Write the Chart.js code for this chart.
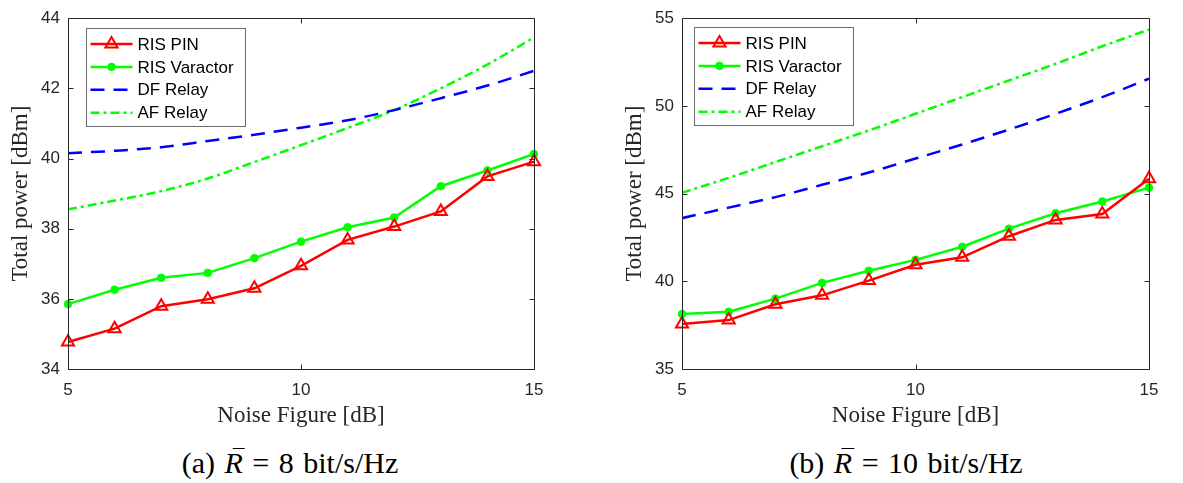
<!DOCTYPE html>
<html>
<head>
<meta charset="utf-8">
<title>Total power vs noise figure</title>
<script src="https://cdn.jsdelivr.net/npm/chart.js@4.4.1/dist/chart.umd.min.js"></script>
<style>
  body { margin: 0; background: #fff; }
  #page { position: relative; width: 1183px; height: 483px; overflow: hidden; }
  #page canvas { position: absolute; top: 0; }
  #chart-a { left: 0; }
  #chart-b { left: 591px; }
  .caption {
    position: absolute; top: 446px; line-height: 34px;
    font-family: 'Liberation Serif', serif; font-size: 30px; color: #000;
    white-space: nowrap; transform: translateX(-50%); word-spacing: 2px;
  }
  .rbar { font-style: italic; position: relative; }
  .rbar::before {
    content: ''; position: absolute; left: 0.26em; top: 0.08em; width: 0.42em;
    border-top: 1.5px solid #000;
  }
</style>
</head>
<body>
<div id="page">
  <canvas id="chart-a" width="591" height="430"></canvas>
  <canvas id="chart-b" width="592" height="430"></canvas>
  <div class="caption" style="left: 290px;">(a) <span class="rbar">R</span> = 8 bit/s/Hz</div>
  <div class="caption" style="left: 906px;">(b) <span class="rbar">R</span> = 10 bit/s/Hz</div>
</div>
<script>
// x values shared by both panels
const noiseFigure = [5, 6, 7, 8, 9, 10, 11, 12, 13, 14, 15];

// (a) R = 8 bit/s/Hz
const pinA       = [34.77, 35.15, 35.79, 35.99, 36.30, 36.94, 37.68, 38.06, 38.49, 39.49, 39.91];
const varactorA  = [35.85, 36.26, 36.60, 36.74, 37.16, 37.63, 38.04, 38.32, 39.21, 39.66, 40.13];
const dfRelayA   = [40.15, 40.22, 40.32, 40.50, 40.68, 40.88, 41.09, 41.38, 41.72, 42.08, 42.50];
const afRelayA   = [38.55, 38.80, 39.07, 39.43, 39.90, 40.38, 40.87, 41.38, 42.00, 42.68, 43.45];
const yTicksA    = [34, 36, 38, 40, 42, 44];

// (b) R = 10 bit/s/Hz
const pinB       = [37.57, 37.79, 38.69, 39.20, 40.04, 40.94, 41.37, 42.57, 43.50, 43.84, 45.84];
const varactorB  = [38.13, 38.26, 39.01, 39.91, 40.60, 41.22, 41.97, 43.00, 43.88, 44.55, 45.34];
const dfRelayB   = [43.60, 44.20, 44.80, 45.50, 46.20, 47.00, 47.80, 48.65, 49.55, 50.50, 51.55];
const afRelayB   = [45.05, 45.90, 46.80, 47.70, 48.60, 49.55, 50.50, 51.45, 52.40, 53.40, 54.35];
const yTicksB    = [35, 40, 45, 50, 55];

const xTicks = [5, 10, 15];

const AXIS_COLOR = '#262626';

function series(values) {
  return values.map((y, i) => ({ x: noiseFigure[i], y }));
}

// MATLAB-like box: frame, inward ticks on all sides, boxed legend top-left
const framePlugin = {
  id: 'frame',
  afterDatasetsDraw(chart, args, opts) {
    const { ctx, chartArea: a, scales } = chart;
    const L = Math.round(a.left) + 0.5, R = Math.round(a.right) + 0.5;
    const T = Math.round(a.top) + 0.5, B = Math.round(a.bottom) + 0.5;
    const tick = 5;

    ctx.save();
    ctx.strokeStyle = AXIS_COLOR;
    ctx.lineWidth = 1;
    ctx.setLineDash([]);
    ctx.beginPath();
    ctx.rect(L, T, R - L, B - T);
    scales.x.ticks.forEach(t => {
      const px = Math.round(scales.x.getPixelForValue(t.value)) + 0.5;
      ctx.moveTo(px, B); ctx.lineTo(px, B - tick);
      ctx.moveTo(px, T); ctx.lineTo(px, T + tick);
    });
    scales.y.ticks.forEach(t => {
      const py = Math.round(scales.y.getPixelForValue(t.value)) + 0.5;
      ctx.moveTo(L, py); ctx.lineTo(L + tick, py);
      ctx.moveTo(R, py); ctx.lineTo(R - tick, py);
    });
    ctx.stroke();

    // legend
    const bx = Math.round(a.left + opts.offsetX) + 0.5;
    const by = Math.round(a.top + opts.offsetY) + 0.5;
    const bw = 159, bh = 98;
    ctx.fillStyle = '#fff';
    ctx.fillRect(bx, by, bw, bh);
    ctx.strokeStyle = '#6b6b6b';
    ctx.strokeRect(bx, by, bw, bh);

    ctx.font = '17px "Liberation Sans", Arial, sans-serif';
    ctx.textBaseline = 'middle';
    ctx.textAlign = 'left';
    chart.data.datasets.forEach((ds, i) => {
      const y = by + 15.5 + i * 22.9;
      ctx.strokeStyle = ds.borderColor;
      ctx.lineWidth = ds.borderWidth;
      ctx.setLineDash(ds.borderDash || []);
      ctx.beginPath();
      ctx.moveTo(bx + 4, y);
      ctx.lineTo(bx + 46, y);
      ctx.stroke();
      ctx.setLineDash([]);
      if (ds.pointRadius > 0) {
        ctx.fillStyle = ds.pointBackgroundColor;
        ctx.strokeStyle = ds.pointBorderColor;
        ctx.lineWidth = ds.pointBorderWidth;
        Chart.helpers.drawPoint(ctx, {
          pointStyle: ds.pointStyle,
          radius: ds.pointRadius,
          borderWidth: ds.pointBorderWidth,
          rotation: 0
        }, bx + 25, y);
      }
      ctx.fillStyle = '#000';
      ctx.fillText(ds.label, bx + 51, y + 1);
    });
    ctx.restore();
  }
};

function makeChart(canvasId, data, yRange, yTicks, pad, legendOffset) {
  const ctx = document.getElementById(canvasId).getContext('2d');
  return new Chart(ctx, {
    type: 'line',
    data: {
      datasets: [
        {
          label: 'RIS PIN',
          data: series(data.pin),
          borderColor: '#ff0000',
          borderWidth: 2.5,
          pointStyle: 'triangle',
          pointRadius: 7,
          pointBorderWidth: 2,
          pointBackgroundColor: 'rgba(255,255,255,0)',
          pointBorderColor: '#ff0000',
          tension: 0,
          clip: false
        },
        {
          label: 'RIS Varactor',
          data: series(data.varactor),
          borderColor: '#00ff00',
          borderWidth: 2.5,
          pointStyle: 'circle',
          pointRadius: 3.8,
          pointBorderWidth: 1,
          pointBackgroundColor: '#00ff00',
          pointBorderColor: '#00ff00',
          tension: 0,
          clip: false
        },
        {
          label: 'DF Relay',
          data: series(data.df),
          borderColor: '#0000ff',
          borderWidth: 2.5,
          borderDash: [14, 9],
          pointRadius: 0,
          cubicInterpolationMode: 'monotone'
        },
        {
          label: 'AF Relay',
          data: series(data.af),
          borderColor: '#00ff00',
          borderWidth: 2.5,
          borderDash: [9, 4, 3, 4],
          pointRadius: 0,
          cubicInterpolationMode: 'monotone'
        }
      ]
    },
    options: {
      responsive: false,
      animation: false,
      events: [],
      layout: { padding: pad },
      plugins: {
        legend: { display: false },
        tooltip: { enabled: false },
        frame: legendOffset
      },
      scales: {
        x: {
          type: 'linear',
          min: 5,
          max: 15,
          afterBuildTicks: s => { s.ticks = xTicks.map(v => ({ value: v })); },
          afterFit: s => { s.height = 61; },
          grid: { display: false, drawTicks: false },
          border: { display: false },
          ticks: {
            color: AXIS_COLOR,
            padding: 11,
            font: { family: '"Liberation Sans", Arial, sans-serif', size: 17 }
          },
          title: {
            display: true,
            text: 'Noise Figure [dB]',
            color: AXIS_COLOR,
            padding: { top: 0, bottom: 0 },
            font: { family: '"Liberation Serif", serif', size: 23 }
          }
        },
        y: {
          type: 'linear',
          min: yRange[0],
          max: yRange[1],
          afterBuildTicks: s => { s.ticks = yTicks.map(v => ({ value: v })); },
          afterFit: s => { s.width = 68; },
          grid: { display: false, drawTicks: false },
          border: { display: false },
          ticks: {
            color: AXIS_COLOR,
            padding: 8,
            font: { family: '"Liberation Sans", Arial, sans-serif', size: 17 }
          },
          title: {
            display: true,
            text: 'Total power [dBm]',
            color: AXIS_COLOR,
            padding: { top: 7, bottom: 0 },
            font: { family: '"Liberation Serif", serif', size: 23 }
          }
        }
      }
    },
    plugins: [framePlugin]
  });
}

makeChart('chart-a',
  { pin: pinA, varactor: varactorA, df: dfRelayA, af: afRelayA },
  [34, 44], yTicksA,
  { left: 0, right: 57, top: 13, bottom: 0 },
  { offsetX: 18, offsetY: 10 });

makeChart('chart-b',
  { pin: pinB, varactor: varactorB, df: dfRelayB, af: afRelayB },
  [35, 55], yTicksB,
  { left: 23, right: 34, top: 13, bottom: 0 },
  { offsetX: 12, offsetY: 9 });
</script>
</body>
</html>
